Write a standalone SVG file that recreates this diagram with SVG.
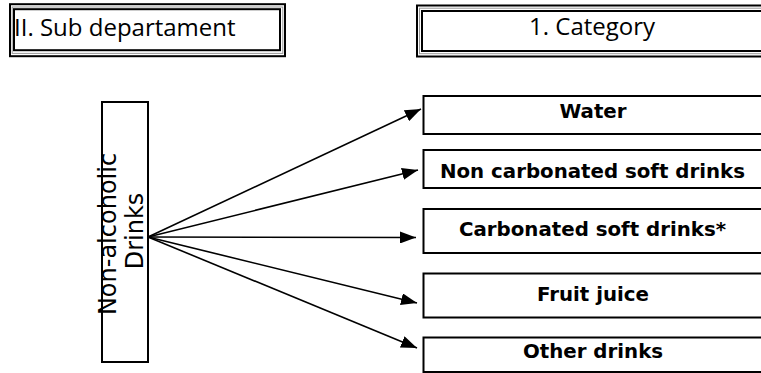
<svg xmlns="http://www.w3.org/2000/svg" width="761" height="373" viewBox="0 0 761 373">
<style>
.bg{fill:#fff}
.box{fill:#fff;stroke:#000;stroke-width:2}
.blk{fill:none;stroke:#000;stroke-width:2}
.gry{fill:none;stroke:#999;stroke-width:1}
.title{font-family:"Open Sans","Liberation Sans",sans-serif;font-size:24px;fill:#000}
.vert{font-family:"DejaVu Sans","Liberation Sans",sans-serif;font-size:24px;fill:#000}
.lbl{font-family:"DejaVu Sans","Liberation Sans",sans-serif;font-size:19.8px;font-weight:bold;fill:#000;text-anchor:middle}
.conn{stroke:#000;stroke-width:1.6;fill:none;marker-end:url(#ah)}
</style>
<defs>
<marker id="ah" markerUnits="userSpaceOnUse" markerWidth="17" markerHeight="12" refX="16" refY="6" orient="auto">
<path d="M0,0 L16,6 L0,12 z" fill="#000"/>
</marker>
</defs>
<rect class="bg" x="0" y="0" width="761" height="373"/>
<g id="subdept">
<rect class="blk" x="10" y="4.2" width="275" height="52"/>
<rect class="gry" x="12.2" y="7" width="270.6" height="46.4"/>
<rect class="blk" x="14" y="9.2" width="266" height="41"/>
<text class="title" x="14" y="36">II. Sub departament</text>
</g>
<g id="category">
<rect class="blk" x="417" y="5.5" width="350" height="51"/>
<rect class="gry" x="419.5" y="8.2" width="350" height="45.5"/>
<rect class="blk" x="422" y="11" width="350" height="40"/>
<text class="title" x="529" y="35">1. Category</text>
</g>
<g id="nonalc">
<rect class="box" x="102" y="102" width="46" height="260"/>
<text class="vert" transform="translate(116,234) rotate(-90)" text-anchor="middle">Non-alcoholic</text>
<text class="vert" transform="translate(143,231) rotate(-90)" text-anchor="middle">Drinks</text>
</g>
<g id="connectors">
<line class="conn" x1="148" y1="237" x2="421" y2="109"/>
<line class="conn" x1="148" y1="237" x2="418" y2="170"/>
<line class="conn" x1="148" y1="237" x2="416" y2="237.5"/>
<line class="conn" x1="148" y1="237" x2="417" y2="303"/>
<line class="conn" x1="148" y1="237" x2="417" y2="348"/>
</g>
<g id="water">
<rect class="box" x="423.5" y="96" width="340" height="38"/>
<text class="lbl" x="593" y="118">Water</text>
</g>
<g id="noncarb">
<rect class="box" x="423.5" y="150" width="340" height="38"/>
<text class="lbl" x="592.5" y="178">Non carbonated soft drinks</text>
</g>
<g id="carb">
<rect class="box" x="423.5" y="209" width="340" height="44"/>
<text class="lbl" x="592.5" y="236">Carbonated soft drinks*</text>
</g>
<g id="juice">
<rect class="box" x="423.5" y="273.5" width="340" height="44"/>
<text class="lbl" x="593" y="301">Fruit juice</text>
</g>
<g id="other">
<rect class="box" x="423.5" y="337.5" width="340" height="34.5"/>
<text class="lbl" x="593" y="358">Other drinks</text>
</g>
</svg>
